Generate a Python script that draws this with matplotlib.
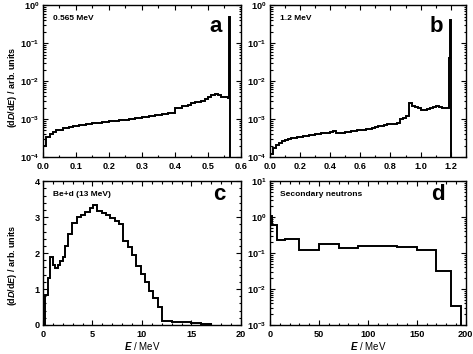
"""Four neutron spectra, 2x2 panels."""
import matplotlib
matplotlib.use("Agg")
import matplotlib.pyplot as plt
import numpy as np
from matplotlib.ticker import MultipleLocator, LogLocator, NullFormatter

plt.rcParams["font.family"] = ["Liberation Sans", "DejaVu Sans"]
plt.rcParams["mathtext.fontset"] = "custom"
plt.rcParams["mathtext.rm"] = "Liberation Sans:bold"
plt.rcParams["mathtext.it"] = "Liberation Sans:italic:bold"
plt.rcParams["font.weight"] = "bold"

# --- panel a: 0.565 MeV ---
a_edges = [0.00, 0.01, 0.02, 0.03, 0.04, 0.05, 0.06, 0.07, 0.08, 0.09,
           0.10, 0.11, 0.12, 0.13, 0.14, 0.15, 0.16, 0.17, 0.18, 0.19,
           0.20, 0.21, 0.22, 0.23, 0.24, 0.25, 0.26, 0.27, 0.28, 0.29,
           0.30, 0.31, 0.32, 0.33, 0.34, 0.35, 0.36, 0.37, 0.38, 0.39,
           0.40, 0.41, 0.42, 0.43, 0.44, 0.45, 0.46, 0.47, 0.48, 0.49,
           0.50, 0.51, 0.52, 0.53, 0.54, 0.55, 0.56, 0.563, 0.567]
a_vals = [2.0e-4, 3.4e-4, 4.1e-4, 4.6e-4, 5.0e-4, 5.3e-4, 5.7e-4, 5.9e-4, 6.2e-4, 6.4e-4,
          6.7e-4, 6.9e-4, 7.1e-4, 7.3e-4, 7.5e-4, 7.7e-4, 7.9e-4, 8.1e-4, 8.4e-4, 8.6e-4,
          8.8e-4, 9.0e-4, 9.1e-4, 9.4e-4, 9.5e-4, 9.7e-4, 9.9e-4, 1.02e-3, 1.05e-3, 1.08e-3,
          1.11e-3, 1.15e-3, 1.19e-3, 1.23e-3, 1.27e-3, 1.31e-3, 1.35e-3, 1.38e-3, 1.42e-3, 1.48e-3,
          1.90e-3, 2.00e-3, 2.15e-3, 2.25e-3, 2.40e-3, 2.65e-3, 2.85e-3, 2.85e-3, 2.90e-3, 3.30e-3,
          3.80e-3, 4.30e-3, 4.50e-3, 4.20e-3, 3.90e-3, 3.70e-3, 3.60e-3, 0.49]

# --- panel b: 1.2 MeV ---
b_edges = [0.00, 0.02, 0.04, 0.06, 0.08, 0.10, 0.12, 0.14, 0.16, 0.18,
           0.20, 0.22, 0.24, 0.26, 0.28, 0.30, 0.32, 0.34, 0.36, 0.38,
           0.40, 0.42, 0.44, 0.46, 0.48, 0.50, 0.52, 0.54, 0.56, 0.58,
           0.60, 0.62, 0.64, 0.66, 0.68, 0.70, 0.72, 0.74, 0.76, 0.78,
           0.80, 0.82, 0.84, 0.86, 0.88, 0.90, 0.92, 0.94, 0.96, 0.98,
           1.00, 1.02, 1.04, 1.06, 1.08, 1.10, 1.12, 1.14, 1.16, 1.18,
           1.19, 1.195, 1.20]
b_vals = [1.2e-4, 1.7e-4, 2.1e-4, 2.4e-4, 2.6e-4, 2.8e-4, 3.0e-4, 3.1e-4, 3.2e-4, 3.3e-4,
          3.4e-4, 3.5e-4, 3.6e-4, 3.7e-4, 3.9e-4, 4.0e-4, 4.1e-4, 4.2e-4, 4.3e-4, 4.4e-4,
          4.6e-4, 4.7e-4, 4.3e-4, 4.2e-4, 4.3e-4, 4.5e-4, 4.6e-4, 4.7e-4, 4.8e-4, 5.0e-4,
          5.1e-4, 5.3e-4, 5.4e-4, 5.6e-4, 5.9e-4, 6.2e-4, 6.5e-4, 6.7e-4, 7.0e-4, 7.3e-4,
          7.5e-4, 7.3e-4, 8.0e-4, 1.0e-3, 1.05e-3, 1.2e-3, 2.6e-3, 2.2e-3, 2.1e-3, 1.9e-3,
          1.7e-3, 1.75e-3, 1.85e-3, 1.95e-3, 2.1e-3, 2.2e-3, 2.1e-3, 2.0e-3, 1.9e-3, 2.0e-3,
          4.0e-2, 0.40]

# --- panel c: Be+d (13 MeV) ---
c_edges = [0.25, 0.5, 0.75, 1.0, 1.25, 1.5, 1.75, 2.0, 2.25, 2.5,
           2.9, 3.4, 3.8, 4.25, 4.7, 5.1, 5.5, 5.95, 6.4, 6.8, 7.25,
           7.7, 8.1, 8.55, 9.0, 9.4, 9.85, 10.3, 10.7, 11.15, 11.6, 12.05,
           13.0, 14.0, 15.0, 16.0, 17.0]
c_vals = [0.83, 1.30, 1.88, 1.68, 1.58, 1.67, 1.78, 1.88, 2.20, 2.53,
          2.85, 3.00, 3.05, 3.15, 3.26, 3.33, 3.18, 3.12, 3.05, 2.98, 2.90,
          2.80, 2.35, 2.17, 1.95, 1.65, 1.42, 1.20, 0.95, 0.75, 0.50,
          0.10, 0.08, 0.07, 0.05, 0.03]

# --- panel d: secondary neutrons ---
d_edges = [0, 2.5, 7.5, 15, 30, 50, 70, 90, 110, 130, 150, 170, 185, 195]
d_vals = [1.05, 0.62, 0.235, 0.25, 0.125, 0.18, 0.143, 0.155, 0.162,
          0.152, 0.123, 0.032, 0.0034]

fig = plt.figure(figsize=(4.73, 3.54), dpi=100)
ax_a = fig.add_axes([0.0909, 0.5565, 0.4186, 0.429])
ax_b = fig.add_axes([0.5708, 0.5565, 0.414, 0.429])
ax_c = fig.add_axes([0.0909, 0.082, 0.4186, 0.406])
ax_d = fig.add_axes([0.5708, 0.082, 0.414, 0.406])

lw = 1.4
ax_a.stairs(a_vals, a_edges, baseline=1e-6, color="black", lw=lw)
ax_b.stairs(b_vals, b_edges, baseline=1e-6, color="black", lw=lw)
ax_c.stairs(c_vals, c_edges, baseline=0, color="black", lw=lw)
ax_d.stairs(d_vals, d_edges, baseline=1e-6, color="black", lw=lw)

for ax in (ax_a, ax_b, ax_d):
    ax.set_yscale("log")
    ax.yaxis.set_major_locator(LogLocator(base=10, numticks=10))
    ax.yaxis.set_minor_locator(LogLocator(base=10, subs=np.arange(2, 10), numticks=10))
    ax.yaxis.set_minor_formatter(NullFormatter())

ax_a.set_xlim(0, 0.6)
ax_a.set_ylim(1e-4, 1)
ax_a.xaxis.set_major_locator(MultipleLocator(0.1))
ax_a.xaxis.set_minor_locator(MultipleLocator(0.05))
ax_a.xaxis.set_major_formatter(lambda v, p: f"{v:.1f}")

ax_b.set_xlim(0, 1.3)
ax_b.set_ylim(1e-4, 1)
ax_b.set_xticks([0.0, 0.2, 0.4, 0.6, 0.8, 1.0, 1.2])
ax_b.xaxis.set_minor_locator(MultipleLocator(0.1))
ax_b.xaxis.set_major_formatter(lambda v, p: f"{v:.1f}")

ax_c.set_xlim(0, 20)
ax_c.set_ylim(0, 4)
ax_c.xaxis.set_major_locator(MultipleLocator(5))
ax_c.xaxis.set_minor_locator(MultipleLocator(1))
ax_c.yaxis.set_major_locator(MultipleLocator(1))
ax_c.yaxis.set_minor_locator(MultipleLocator(0.2))

ax_d.set_xlim(0, 200)
ax_d.set_ylim(1e-3, 10)
ax_d.xaxis.set_major_locator(MultipleLocator(50))
ax_d.xaxis.set_minor_locator(MultipleLocator(10))

for ax in (ax_a, ax_b, ax_c, ax_d):
    ax.tick_params(which="both", direction="in", top=True, right=True,
                   labelsize=6.6, width=0.8)
    ax.tick_params(axis="x", which="major", length=3.5, pad=3.5)
    ax.tick_params(axis="y", which="major", length=3.5, pad=2.5)
    ax.tick_params(which="minor", length=1.8)
    for s in ax.spines.values():
        s.set_linewidth(1.0)

# (axes, label, letter, letter x, letter y)
panel_info = [(ax_a, "0.565 MeV", "a", 0.87, 0.86),
              (ax_b, "1.2 MeV", "b", 0.85, 0.86),
              (ax_c, "Be+d (13 MeV)", "c", 0.89, 0.91),
              (ax_d, "Secondary neutrons", "d", 0.86, 0.91)]
for ax, label, letter, lx, ly in panel_info:
    ax.text(0.05, 0.91, label, transform=ax.transAxes, fontsize=6,
            fontweight="bold", ha="left", va="center")
    ax.text(lx, ly, letter, transform=ax.transAxes, fontsize=16,
            fontweight="bold", ha="center", va="center")

ylab = r"(d$D$/d$E$) / arb. units"
fig.text(0.027, 0.754, ylab, rotation=90, ha="center", va="center", fontsize=6.5)
fig.text(0.027, 0.25, ylab, rotation=90, ha="center", va="center", fontsize=6.5)
ax_c.set_xlabel(r"$E$ / MeV", fontsize=7, labelpad=1)
ax_d.set_xlabel(r"$E$ / MeV", fontsize=7, labelpad=1)

fig.savefig("out.png", dpi=100)
